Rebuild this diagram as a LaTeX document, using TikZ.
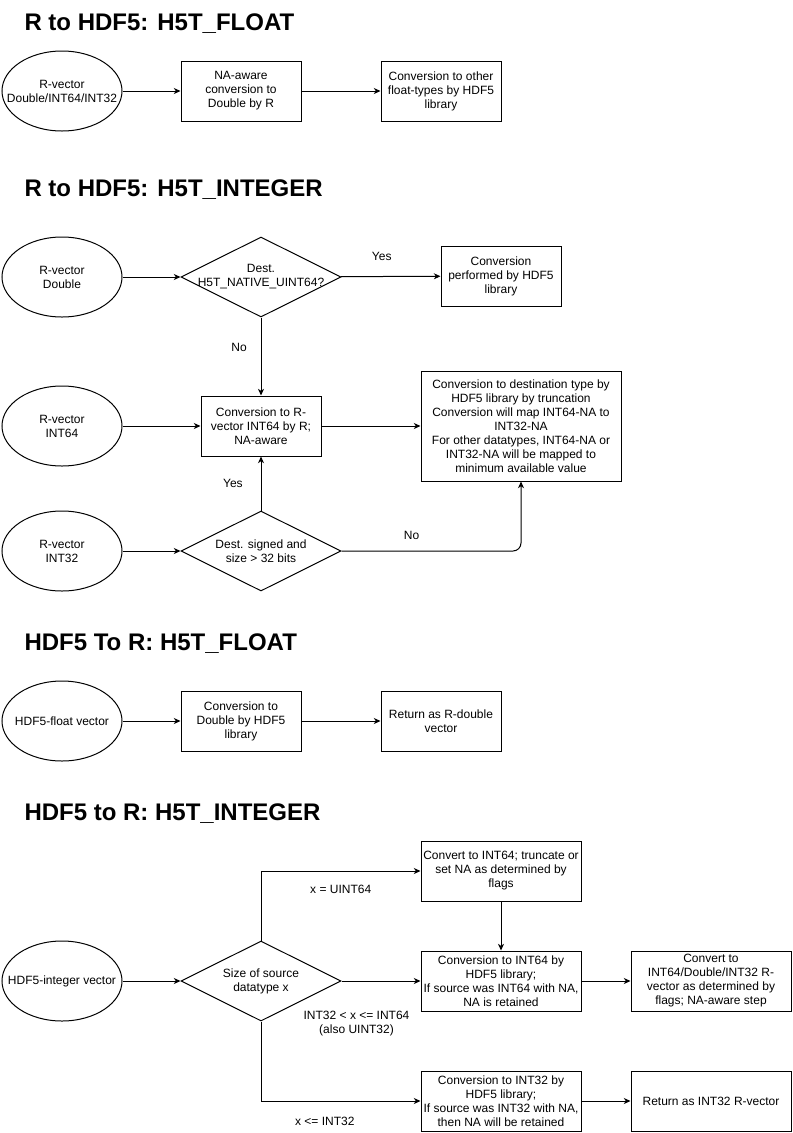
\documentclass[tikz,border=0pt]{standalone}
\usepackage{fontspec}
\setmainfont{Liberation Sans}
\usetikzlibrary{shapes.geometric,arrows.meta}

\begin{document}
\begin{tikzpicture}[x=0.75pt,y=-0.75pt,line width=0.75pt,
  every node/.style={font=\fontsize{9}{10.5}\selectfont,align=center},
  box/.style={draw,minimum width=90pt,minimum height=45pt,inner sep=1pt},
  widebox/.style={box,minimum width=120pt},
  oval/.style={draw,ellipse,minimum width=90pt,minimum height=60pt,inner sep=0pt},
  decision/.style={draw,diamond,minimum width=120pt,minimum height=60pt,inner sep=0pt},
  heading/.style={anchor=base west,inner sep=0pt,font=\fontsize{18}{20}\selectfont\bfseries},
  flow/.style={-{Stealth[length=5pt,width=4.5pt,inset=1.5pt]}}]
\useasboundingbox (0,0) rectangle (793,1133);

\node[heading] (t1) at (24,30) {R to HDF5: H5T\_FLOAT};
\node[oval,label={center:R-vector\\Double/INT64/INT32}] (rv) at (62,91) {};
\node[box] (naconv) at (241,91) {NA-aware\\conversion to\\Double by R};
\node[box] (fltconv) at (441,91) {Conversion to other\\float-types by HDF5\\library};
\draw[flow] (rv) -- (naconv);
\draw[flow] (naconv) -- (fltconv);

\node[heading] (t2) at (24,196) {R to HDF5: H5T\_INTEGER};
\node[oval,label={center:R-vector\\Double}] (rdbl) at (62,277) {};
\node[decision,label={center:Dest.\\H5T\_NATIVE\_UINT64?}] (isu64) at (261,277) {};
\node[box] (hdfconv) at (501,276) {Conversion\\performed by HDF5\\library};
\node[oval,label={center:R-vector\\INT64}] (ri64) at (62,426) {};
\node[box] (rconv) at (261,426) {Conversion to R-\\vector INT64 by R;\\NA-aware};
\node[draw,minimum width=150pt,minimum height=82.5pt,inner sep=1pt] (trunc) at (521,426)
  {Conversion to destination type by\\HDF5 library by truncation\\Conversion will map INT64-NA to\\INT32-NA\\For other datatypes, INT64-NA or\\INT32-NA will be mapped to\\minimum available value};
\node[oval,label={center:R-vector\\INT32}] (ri32) at (62,551) {};
\node[decision,label={center:Dest. signed and\\size > 32 bits}] (isbig) at (261,551) {};

\draw[flow] (rdbl) -- (isu64);
\draw[flow] (isu64) -- node[pos=0.41,above=8pt]{Yes} (hdfconv);
\draw[flow] (isu64) -- node[pos=0.39,left=7pt]{No} (rconv);
\draw[flow] (ri64) -- (rconv);
\draw[flow] (rconv) -- (trunc);
\draw[flow] (ri32) -- (isbig);
\draw[flow] (isbig) -- node[left=10pt]{Yes} (rconv);
\draw[flow,rounded corners=6pt] (isbig) -- node[pos=0.39,above=5pt]{No} (trunc.south |- isbig) -- (trunc.south);

\node[heading] (t3) at (24,650) {HDF5 To R: H5T\_FLOAT};
\node[oval,label={center:HDF5-float vector}] (hflt) at (62,721) {};
\node[box] (dblconv) at (241,721) {Conversion to\\Double by HDF5\\library};
\node[box] (retdbl) at (441,721) {Return as R-double\\vector};
\draw[flow] (hflt) -- (dblconv);
\draw[flow] (dblconv) -- (retdbl);

\node[heading] (t4) at (24,820) {HDF5 to R: H5T\_INTEGER};
\node[oval,label={center:HDF5-integer vector}] (hint) at (62,981) {};
\node[decision,label={center:Size of source\\datatype x}] (srcsize) at (261,981) {};
\node[widebox] (toi64) at (501,871) {Convert to INT64; truncate or\\set NA as determined by\\flags};
\node[widebox] (i64conv) at (501,981) {Conversion to INT64 by\\HDF5 library;\\If source was INT64 with NA,\\NA is retained};
\node[widebox] (torvec) at (711,981) {Convert to\\INT64/Double/INT32 R-\\vector as determined by\\flags; NA-aware step};
\node[widebox] (i32conv) at (501,1101) {Conversion to INT32 by\\HDF5 library;\\If source was INT32 with NA,\\then NA will be retained};
\node[widebox] (reti32) at (711,1101) {Return as INT32 R-vector};

\draw[flow] (hint) -- (srcsize);
\draw[flow] (srcsize.north) |- node[pos=0.75,below=7pt]{x = UINT64} (toi64);
\draw[flow] (toi64) -- (i64conv);
\draw[flow] (srcsize) -- node[pos=0.19,below=19pt]{INT32 < x <= INT64\\(also UINT32)} (i64conv);
\draw[flow] (srcsize.south) |- node[pos=0.7,below=8pt]{x <= INT32} (i32conv);
\draw[flow] (i64conv) -- (torvec);
\draw[flow] (i32conv) -- (reti32);
\end{tikzpicture}
\end{document}
